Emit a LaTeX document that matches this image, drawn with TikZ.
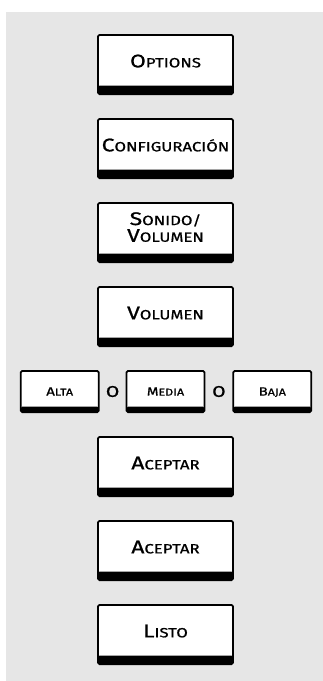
\documentclass[tikz,border=0pt]{standalone}
\usepackage{fontspec}
\setmainfont{Fira Sans}[FakeStretch=1.25, FakeBold=0.9]
\usepackage{tikz}
\usetikzlibrary{positioning, calc}

\definecolor{panelgray}{HTML}{E6E6E6}
\newcommand\scsize{}
\newcommand\sct[2]{#1{\scsize\MakeUppercase{#2}}}
\newcommand\bigkeyfont{\fontsize{18.3}{16.7}\selectfont\lineskiplimit=-20pt\renewcommand\scsize{\fontsize{13.4}{16.7}\selectfont}}
\newcommand\smallkeyfont{\fontsize{12}{12}\selectfont\renewcommand\scsize{\fontsize{10}{12}\selectfont}}

\begin{document}
\begin{tikzpicture}[
    x=1pt, y=1pt,
    node distance=23pt,
    btn/.style={draw, line width=1.8pt, rounded corners=1.5pt, fill=white, inner sep=0pt, minimum width=135pt, minimum height=59.2pt, align=center, font=\bigkeyfont,
        path picture={\fill[black] (path picture bounding box.south west) rectangle ([yshift=8.5pt]path picture bounding box.south east);}},
    btnline/.style={btn, text height=12.3pt, text depth=6.6pt},
    sbtn/.style={draw, line width=1.8pt, rounded corners=1.5pt, fill=white, inner sep=0pt, minimum width=78pt, minimum height=41.2pt, font=\smallkeyfont, text height=8.2pt, text depth=0pt,
        path picture={\fill[black] (path picture bounding box.south west) rectangle ([yshift=5.5pt]path picture bounding box.south east);}},
    ortext/.style={inner sep=0pt, font=\fontsize{15.5}{15.5}\selectfont}
]
\fill[panelgray] (6,-12) rectangle (323,-681);
\useasboundingbox (0,0) rectangle (323,-681);

\node[btnline] (options) at (165.5,-64.5) {\sct{O}{ptions}};
\node[btnline, below=of options] (config) {\sct{C}{onfiguración}};
\node[btn, below=of config] (sonido) {\sct{S}{onido/}\\\sct{V}{olumen}\rule[-11pt]{0pt}{11pt}};
\node[btnline, below=of sonido] (volumen) {\sct{V}{olumen}};
\node[sbtn, below=of volumen] (media) {\sct{M}{edia}};
\node[sbtn, left=26pt of media] (alta) {\sct{A}{lta}};
\node[sbtn, right=27pt of media] (baja) {\sct{B}{aja}};
\node[ortext] (or1) at ($(alta.east)!0.5!(media.west)$) {O};
\node[ortext] (or2) at ($(media.east)!0.5!(baja.west)$) {O};
\node[btnline, below=23pt of media] (aceptar1) {\sct{A}{ceptar}};
\node[btnline, below=of aceptar1] (aceptar2) {\sct{A}{ceptar}};
\node[btnline, below=of aceptar2] (listo) {\sct{L}{isto}};
\end{tikzpicture}
\end{document}
